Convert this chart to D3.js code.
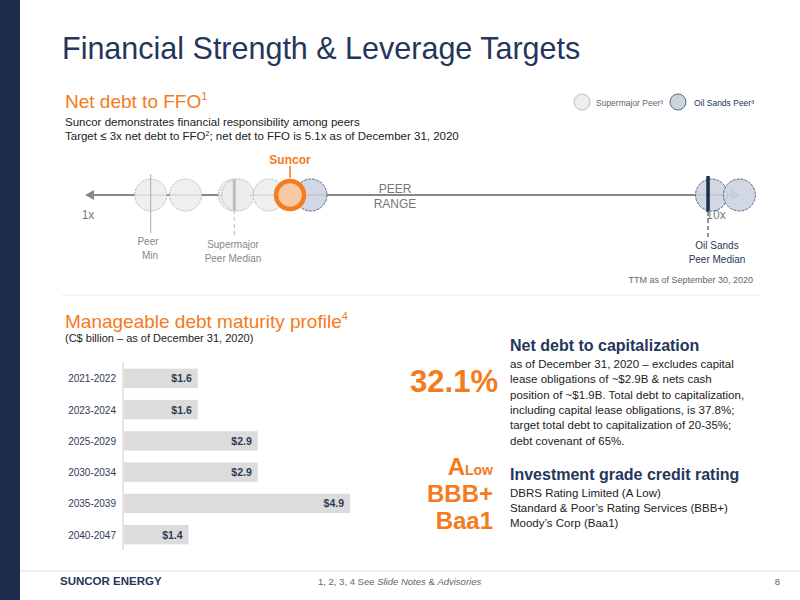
<!DOCTYPE html><html><head><meta charset="utf-8"><script src="https://cdn.jsdelivr.net/npm/d3@7"></script>
<style>body{margin:0;background:#fff}text{font-family:"Liberation Sans",Arial,sans-serif}</style></head><body>
<svg id="c" width="800" height="600"></svg>
<script>
const categories=["2021-2022","2023-2024","2025-2029","2030-2034","2035-2039","2040-2047"];
const values=[1.6,1.6,2.9,2.9,4.9,1.4];
const valueLabels=["$1.6","$1.6","$2.9","$2.9","$4.9","$1.4"];
const supermajorPeers=[1.9,2.4,3.1,3.15,3.6];
const oilSandsPeers=[4.2,9.95,10.35];
const suncorValue=3.9;
const peerMin=1.9, supermajorMedian=3.1, oilSandsMedian=9.9;

const svg=d3.select("#c");
const navy="#25365a", orange="#f47b20";
svg.append("rect").attr("x",0).attr("y",0).attr("width",20).attr("height",600).attr("fill","#1e2c4c");
const T=(x,y,s,o={})=>{const t=svg.append("text").attr("x",x).attr("y",y).text(s).attr("font-size",o.fs||11).attr("fill",o.c||"#333").attr("text-anchor",o.a||"start").attr("font-weight",o.w||"normal");if(o.i)t.attr("font-style","italic");return t;};
T(62,59,"Financial Strength & Leverage Targets",{fs:30.5,c:navy});
const h1=T(65,108,"Net debt to FFO",{fs:19,c:orange});h1.append("tspan").attr("font-size",11).attr("dy",-8).text("1");
T(65,126,"Suncor demonstrates financial responsibility among peers",{fs:11.5,c:"#222"});
const s2=T(65,140,"Target ≤ 3x net debt to FFO",{fs:11.5,c:"#222"});s2.append("tspan").attr("font-size",7).attr("dy",-4).text("2");s2.append("tspan").attr("dy",4).text("; net det to FFO is 5.1x as of December 31, 2020");
svg.append("circle").attr("cx",582).attr("cy",102).attr("r",8).attr("fill","#eee").attr("stroke","#bbb");
T(596,106,"Supermajor Peer³",{fs:8.5,c:"#666"});
svg.append("circle").attr("cx",678).attr("cy",102).attr("r",8).attr("fill","#ccd4e0").attr("stroke","#5a6a88");
T(694,106,"Oil Sands Peer³",{fs:8.5,c:navy});
const x=d3.scaleLinear().domain([1,10]).range([88,715]);
const ay=195, r=16;
svg.append("line").attr("x1",92).attr("x2",735).attr("y1",ay).attr("y2",ay).attr("stroke","#888").attr("stroke-width",2);
svg.append("path").attr("d",`M85,${ay}l9,-5v10z`).attr("fill","#888");
svg.append("path").attr("d",`M740,${ay}l-9,-5v10z`).attr("fill","#888");
svg.selectAll(".sp").data(supermajorPeers).join("circle").attr("cx",d=>x(d)).attr("cy",ay).attr("r",r).attr("fill","#ececec").attr("fill-opacity",0.85).attr("stroke","#bbb").attr("stroke-dasharray","2,1");
svg.selectAll(".op").data(oilSandsPeers).join("circle").attr("cx",d=>x(d)).attr("cy",ay).attr("r",r).attr("fill","#ccd4e0").attr("fill-opacity",0.9).attr("stroke","#5a6a88").attr("stroke-dasharray","3,1");
svg.append("line").attr("x1",x(suncorValue)).attr("x2",x(suncorValue)).attr("y1",166).attr("y2",178).attr("stroke",orange).attr("stroke-width",1.5);
svg.append("circle").attr("cx",x(suncorValue)).attr("cy",ay).attr("r",14).attr("fill","#f9c9a6").attr("stroke",orange).attr("stroke-width",4.5);
T(x(suncorValue),164,"Suncor",{fs:12,c:orange,a:"middle",w:"bold"});
svg.append("line").attr("x1",x(peerMin)).attr("x2",x(peerMin)).attr("y1",174).attr("y2",233).attr("stroke","#aaa");
svg.append("line").attr("x1",x(supermajorMedian)).attr("x2",x(supermajorMedian)).attr("y1",180).attr("y2",210).attr("stroke","#bbb").attr("stroke-width",3);
svg.append("line").attr("x1",x(supermajorMedian)).attr("x2",x(supermajorMedian)).attr("y1",210).attr("y2",237).attr("stroke","#bbb").attr("stroke-dasharray","4,3");
svg.append("line").attr("x1",x(oilSandsMedian)).attr("x2",x(oilSandsMedian)).attr("y1",176).attr("y2",212).attr("stroke","#1e2c4c").attr("stroke-width",3.5);
svg.append("line").attr("x1",x(oilSandsMedian)).attr("x2",x(oilSandsMedian)).attr("y1",212).attr("y2",237).attr("stroke","#1e2c4c").attr("stroke-dasharray","4,3");
T(88,219,"1x",{fs:12,c:"#777",a:"middle"});T(716,219,"10x",{fs:12,c:"#777",a:"middle"});
T(395,193,"PEER",{fs:12,c:"#777",a:"middle"});T(395,208,"RANGE",{fs:12,c:"#777",a:"middle"});
T(148,245,"Peer",{fs:10,c:"#888",a:"middle"});T(150,259,"Min",{fs:10,c:"#888",a:"middle"});
T(233,248,"Supermajor",{fs:10,c:"#888",a:"middle"});T(233,262,"Peer Median",{fs:10,c:"#888",a:"middle"});
T(717,249,"Oil Sands",{fs:10,c:navy,a:"middle"});T(717,263,"Peer Median",{fs:10,c:navy,a:"middle"});
T(753,283,"TTM as of September 30, 2020",{fs:9,c:"#666",a:"end"});
svg.append("line").attr("x1",62).attr("x2",760).attr("y1",295).attr("y2",295).attr("stroke","#eee");
const h2=T(65,328,"Manageable debt maturity profile",{fs:19,c:orange});h2.append("tspan").attr("font-size",11).attr("dy",-8).text("4");
T(65,342,"(C$ billion – as of December 31, 2020)",{fs:11,c:"#222"});
const y=d3.scaleBand().domain(categories).range([363,550]).paddingInner(0.38).paddingOuter(0.18);
const bx=d3.scaleLinear().domain([0,4.9]).range([124,350]);
svg.append("line").attr("x1",123).attr("x2",123).attr("y1",362).attr("y2",550).attr("stroke","#ccc");
svg.selectAll(".b").data(values).join("rect").attr("x",bx(0)).attr("y",(d,i)=>y(categories[i])).attr("width",d=>bx(d)-bx(0)).attr("height",y.bandwidth()).attr("fill","#dcdcdc");
svg.selectAll(".bl").data(values).join("text").attr("x",d=>bx(d)-6).attr("y",(d,i)=>y(categories[i])+y.bandwidth()/2+4).attr("text-anchor","end").attr("font-size",10.5).attr("font-weight","bold").attr("fill","#2e3b55").text((d,i)=>valueLabels[i]);
svg.selectAll(".cl").data(categories).join("text").attr("x",116).attr("y",d=>y(d)+y.bandwidth()/2+4).attr("text-anchor","end").attr("font-size",10).attr("fill","#2e3b55").text(d=>d);
T(498,392,"32.1%",{fs:31,c:orange,a:"end",w:"bold"});
T(510,351,"Net debt to capitalization",{fs:16,c:navy,w:"bold"});
["as of December 31, 2020 – excludes capital","lease obligations of ~$2.9B & nets cash","position of ~$1.9B. Total debt to capitalization,","including capital lease obligations, is 37.8%;","target total debt to capitalization of 20-35%;","debt covenant of 65%."].forEach((s,i)=>T(510,368+i*15.3,s,{fs:11.5,c:"#222"}));
const a=T(493,475,"A",{fs:24,c:orange,a:"end",w:"bold"});a.append("tspan").attr("font-size",14).text("Low");
T(493,502,"BBB+",{fs:24,c:orange,a:"end",w:"bold"});
T(493,529,"Baa1",{fs:24,c:orange,a:"end",w:"bold"});
T(510,480,"Investment grade credit rating",{fs:16,c:navy,w:"bold"});
["DBRS Rating Limited (A Low)","Standard & Poor’s Rating Services (BBB+)","Moody’s Corp (Baa1)"].forEach((s,i)=>T(510,497+i*15,s,{fs:11.5,c:"#222"}));
svg.append("line").attr("x1",20).attr("x2",800).attr("y1",571).attr("y2",571).attr("stroke","#ddd");
T(60,585,"SUNCOR ENERGY",{fs:11.5,c:navy,w:"bold"});
const f=T(318,585,"1, 2, 3, 4 See ",{fs:9.5,c:"#666"});f.append("tspan").attr("font-style","italic").text("Slide Notes");f.append("tspan").text(" & ");f.append("tspan").attr("font-style","italic").text("Advisories");
T(780,585,"8",{fs:9.5,c:"#666",a:"end"});
</script></body></html>
